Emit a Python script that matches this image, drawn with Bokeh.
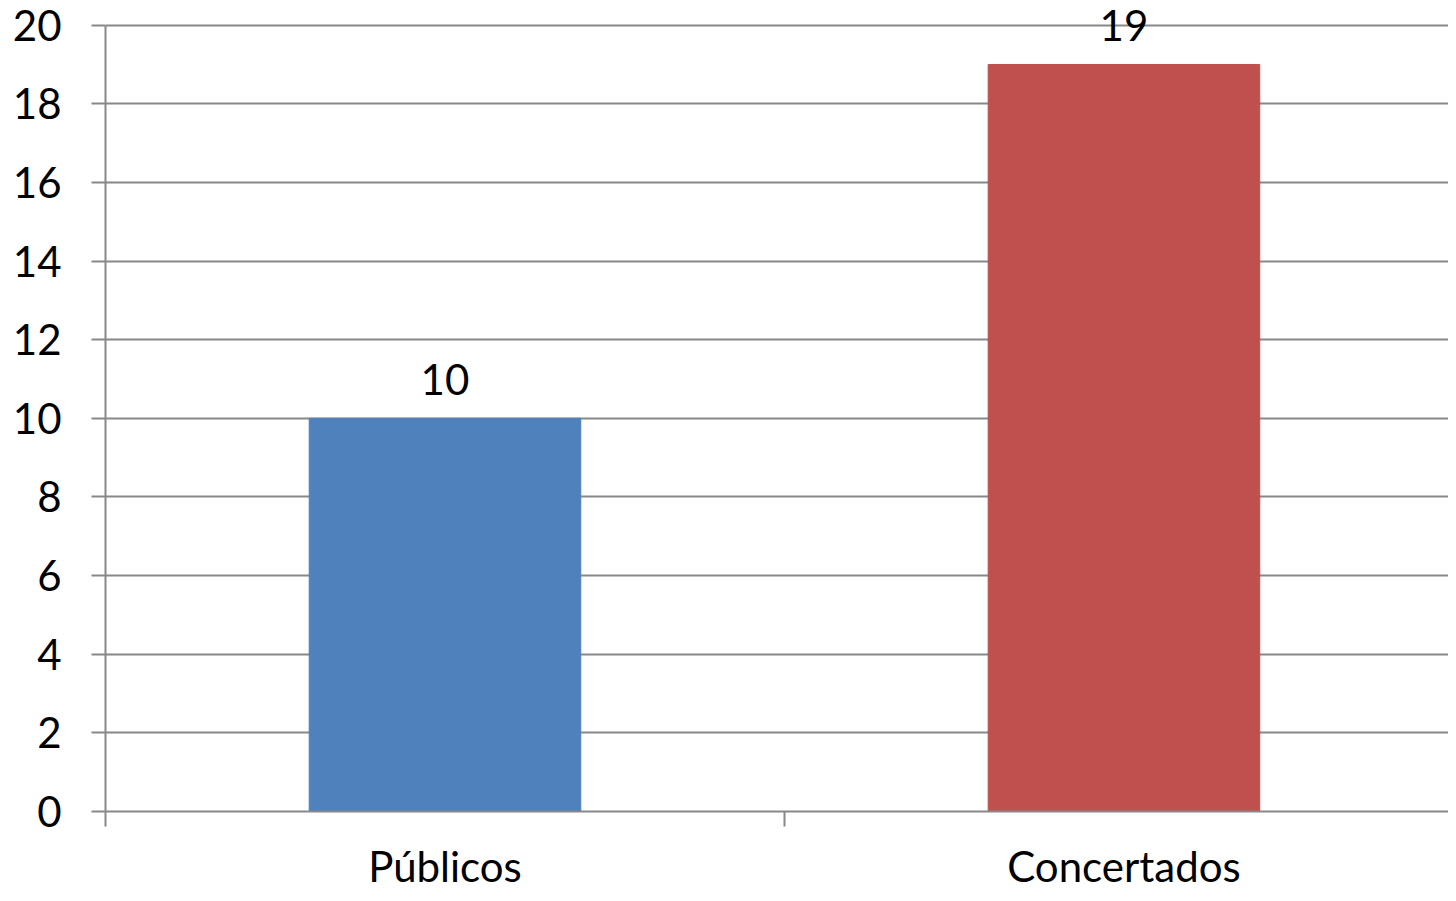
from bokeh.plotting import figure
from bokeh.models import ColumnDataSource, FixedTicker, Range1d
from bokeh.core.properties import value
from bokeh.embed import file_html
from bokeh.resources import INLINE

categories = ["Públicos", "Concertados"]
values = [10, 19]
colors = ["#4F81BD", "#C0504D"]
y_ticks = [0, 2, 4, 6, 8, 10, 12, 14, 16, 18, 20]

FONT = "Lato"
FS = "42px"
GRID = "#888888"

xs = [i + 0.5 for i in range(len(categories))]
labels = [str(v) for v in values]
src = ColumnDataSource(dict(x=xs, top=values, color=colors, label=labels))

p = figure(width=1448, height=893, output_backend="svg", toolbar_location=None,
           x_range=Range1d(0, 1.978), y_range=Range1d(0, 20.5),
           min_border_left=105, min_border_right=0, min_border_top=5, min_border_bottom=60)
p.outline_line_color = None
p.background_fill_color = "white"
p.border_fill_color = "white"

p.vbar(x="x", top="top", bottom=0, width=0.4, color="color", source=src)
p.text(x="x", y="top", text="label", source=src, text_align="center",
       text_baseline="middle", y_offset=-39, text_font=value(FONT),
       text_font_size=FS, text_color="black")

# y axis
p.yaxis.ticker = FixedTicker(ticks=y_ticks)
p.yaxis.bounds = (0, 20)
p.yaxis.axis_line_color = GRID
p.yaxis.axis_line_width = 2
p.yaxis.major_tick_line_color = GRID
p.yaxis.major_tick_line_width = 2
p.yaxis.major_tick_out = 14
p.yaxis.major_tick_in = 0
p.yaxis.minor_tick_line_color = None
p.yaxis.major_label_standoff = 30
p.yaxis.major_label_text_font = FONT
p.yaxis.major_label_text_font_size = FS
p.yaxis.major_label_text_color = "black"

# x axis
p.xaxis.ticker = FixedTicker(ticks=xs, minor_ticks=[0, 1, 2])
p.xaxis.major_label_overrides = {x: c for x, c in zip(xs, categories)}
p.xaxis.axis_line_color = GRID
p.xaxis.axis_line_width = 2
p.xaxis.major_tick_line_color = None
p.xaxis.major_tick_out = 0
p.xaxis.major_tick_in = 0
p.xaxis.minor_tick_line_color = GRID
p.xaxis.minor_tick_line_width = 2
p.xaxis.minor_tick_out = 15
p.xaxis.minor_tick_in = 0
p.xaxis.major_label_standoff = 14
p.xaxis.major_label_text_font = FONT
p.xaxis.major_label_text_font_size = FS
p.xaxis.major_label_text_color = "black"

p.xgrid.grid_line_color = None
p.ygrid.grid_line_color = GRID
p.ygrid.grid_line_width = 2
p.ygrid.ticker = FixedTicker(ticks=y_ticks)
p.ygrid.level = "underlay"

open("out.html", "w").write(file_html(p, INLINE))
